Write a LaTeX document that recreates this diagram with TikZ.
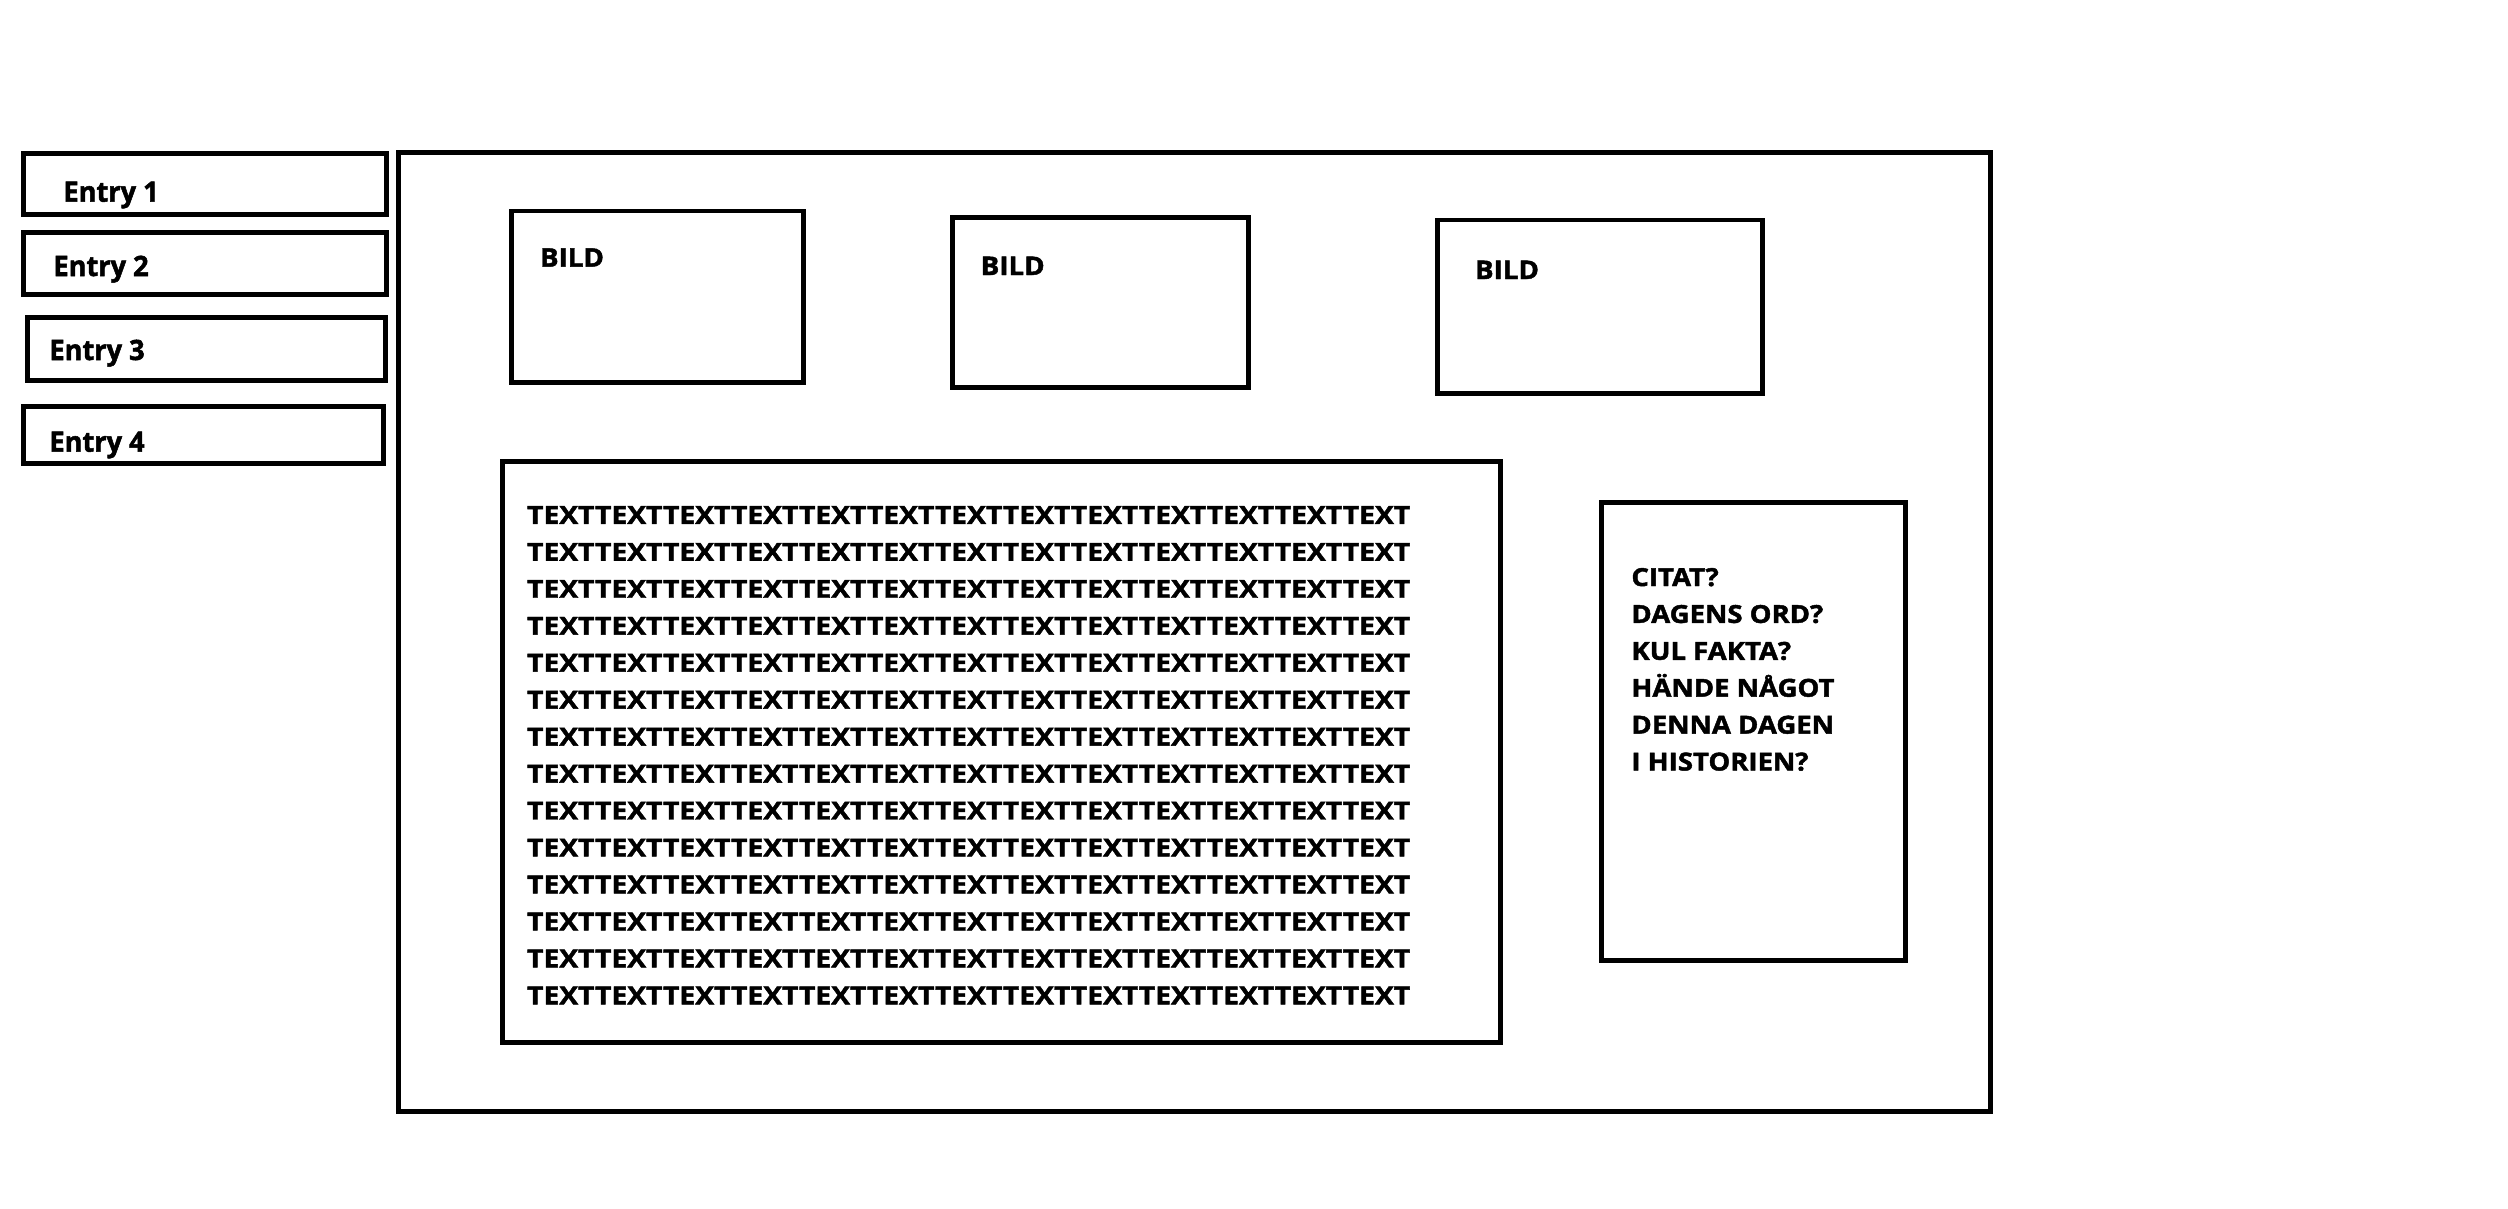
\documentclass[tikz,border=0pt]{standalone}
\usepackage{fontspec}
\setmainfont{Open Sans}
\newfontfamily\entryfont{Open Sans}[FakeStretch=0.97,BoldFeatures={FakeBold=1.8}]
\newfontfamily\bildfont{Open Sans}[FakeStretch=1.08,BoldFeatures={FakeBold=1.8}]
\newfontfamily\bodyfont{Open Sans}[FakeStretch=1.14,BoldFeatures={FakeBold=1.8}]
\newfontfamily\sidefont{Open Sans}[FakeStretch=1.11,BoldFeatures={FakeBold=1.8}]
\begin{document}
\begin{tikzpicture}[x=0.01cm,y=-0.01cm,
  box/.style={draw=black,line width=1.42pt},
  entrylbl/.style={anchor=base west,inner sep=0pt,font=\entryfont\bfseries\fontsize{7.97}{9}\selectfont},
  bildlbl/.style={anchor=base west,inner sep=0pt,font=\bildfont\bfseries\fontsize{7.3}{9}\selectfont},
  txtlbl/.style={anchor=base west,inner sep=0pt,font=\bodyfont\bfseries\fontsize{7.05}{9}\selectfont},
  sidelbl/.style={anchor=base west,inner sep=0pt,font=\sidefont\bfseries\fontsize{7.05}{9}\selectfont}]
\useasboundingbox (0,0) rectangle (2508,1209);
% left menu entries
\draw[box] (23.5,153.2) rectangle (386.8,214.8);
\draw[box] (23.5,232.5) rectangle (386.2,294.2);
\draw[box] (27.5,317.5) rectangle (385.5,380.8);
\draw[box] (23.5,406.5) rectangle (383.2,463.2);
\node[entrylbl] (e1) at (62.7,201.7) {Entry 1};
\node[entrylbl] (e2) at (52.7,276) {Entry 2};
\node[entrylbl] (e3) at (48.7,360) {Entry 3};
\node[entrylbl] (e4) at (48.7,451.7) {Entry 4};
% main frame
\draw[box] (398.5,152.5) rectangle (1990,1111.5);
% picture boxes
\draw[box] (511,211) rectangle (803,382);
\draw[box] (952.5,217.5) rectangle (1248,387.5);
\draw[box] (1437.5,220) rectangle (1762.5,393);
\node[bildlbl] (b1) at (539.3,266.7) {BILD};
\node[bildlbl] (b2) at (980,275) {BILD};
\node[bildlbl] (b3) at (1474.3,279) {BILD};
% text box
\draw[box] (502,461) rectangle (1500,1042.5);
\foreach \i in {0,...,13}{
  \node[txtlbl] (t\i) at (526.4,523.8+36.96*\i) {TEXTTEXTTEXTTEXTTEXTTEXTTEXTTEXTTEXTTEXTTEXTTEXTTEXT};
}
% side box
\draw[box] (1601,502) rectangle (1905,960);
\node[sidelbl] (c1) at (1630.7,586) {CITAT?};
\node[sidelbl] (c2) at (1630.7,622.9) {DAGENS ORD?};
\node[sidelbl] (c3) at (1630.7,659.8) {KUL FAKTA?};
\node[sidelbl] (c4) at (1630.7,696.7) {HÄNDE NÅGOT};
\node[sidelbl] (c5) at (1630.7,733.6) {DENNA DAGEN};
\node[sidelbl] (c6) at (1630.7,770.5) {I HISTORIEN?};
\end{tikzpicture}
\end{document}
